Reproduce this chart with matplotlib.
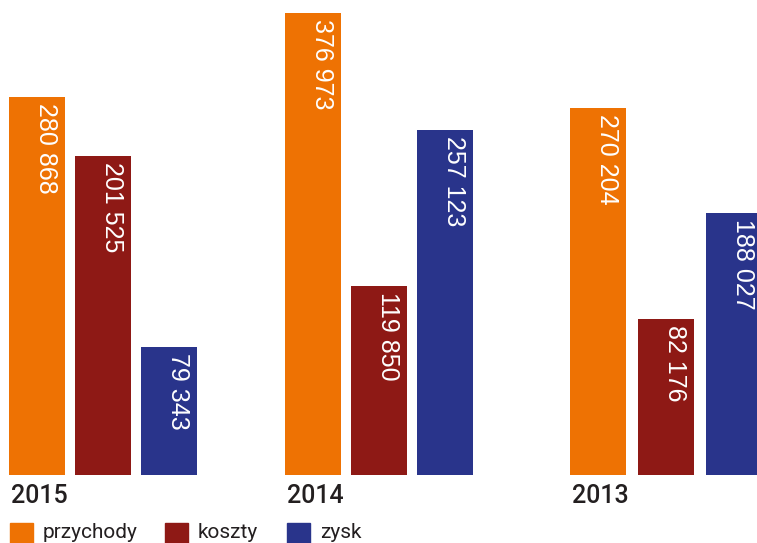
import matplotlib
matplotlib.use("Agg")
from matplotlib import pyplot as plt
from matplotlib.patches import Rectangle
from matplotlib.transforms import blended_transform_factory

years = ["2015", "2014", "2013"]
series = ["przychody", "koszty", "zysk"]
colors = ["#EE7203", "#8E1915", "#29348B"]

# printed values
values = [
    [280868, 201525, 79343],
    [376973, 119850, 257123],
    [270204, 82176, 188027],
]
# bar lengths as drawn in the picture (the infographic is not to scale)
heights = [
    [308300, 260200, 104400],
    [376973, 154200, 281400],
    [299300, 127200, 213700],
]

# x axis in pixels of the 757 px wide image
group_start = [9, 285, 570]
bar_step = [66, 66, 68]
bar_width = 56
text_color = "#231F20"


def fmt(v):
    return f"{v:,}".replace(",", " ")


fig = plt.figure(figsize=(7.57, 5.43), dpi=100)
ax = fig.add_axes([0, 68 / 543, 1, 475 / 543])
ax.set_xlim(0, 757)
ax.set_ylim(0, 387500)
ax.axis("off")

for g, year in enumerate(years):
    for s in range(len(series)):
        x = group_start[g] + s * bar_step[g]
        h = heights[g][s]
        ax.bar(x, h, width=bar_width, align="edge", color=colors[s], clip_on=False)
        ax.annotate(fmt(values[g][s]), xy=(x + bar_width / 2, h),
                    xytext=(9, -6), textcoords="offset pixels",
                    rotation=-90, ha="center", va="top", color="white",
                    fontsize=18, family="Liberation Sans")

trans = blended_transform_factory(ax.transData, fig.transFigure)
for g, year in enumerate(years):
    ax.text(group_start[g] + 2, 1 - 496 / 543, year, transform=trans,
            ha="left", va="center", fontsize=18, fontweight="medium",
            family="Roboto", color=text_color)

# legend
legend_x = [10, 165, 287]
for s, name in enumerate(series):
    x0 = legend_x[s] / 757
    fig.patches.append(Rectangle((x0, 1 - 546 / 543), 23 / 757, 23 / 543,
                                 transform=fig.transFigure, color=colors[s]))
    fig.text(x0 + 33 / 757, 1 - 533 / 543, name, ha="left", va="center",
             fontsize=15, family="Roboto", color=text_color)

fig.savefig("out.png", dpi=100)
